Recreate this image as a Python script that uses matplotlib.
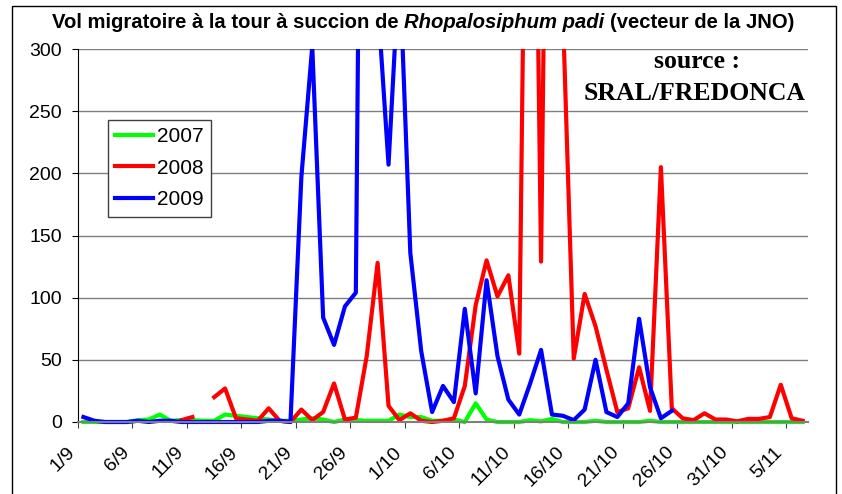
import matplotlib
matplotlib.use('Agg')

import numpy as np
import matplotlib.pyplot as plt
from matplotlib.patches import Rectangle

nan = np.nan

# one value per day, 1/9 -> 6/11
tick_labels = ['1/9', '6/9', '11/9', '16/9', '21/9', '26/9', '1/10', '6/10',
               '11/10', '16/10', '21/10', '26/10', '31/10', '5/11']

vol_2007 = [0, 0, 0, 0, 0, 1.5, 2, 6, 1, 1.5, 1.5, 1, 1, 6, 5, 4, 3, 2, 1, 1,
            2, 3, 2, 0, 2, 1.5, 1, 1, 1, 6, 4, 4, 1, 1, 2, 0, 15, 2, 0, 0,
            0, 1.5, 0.5, 2.5, 0, 0, 0, 1, 0, 0, 0, 0, 1, 0, 0, 0, 0, 0, 0, 0,
            0, 0, 0, 0, 0, 0, 0]

vol_2008 = [nan, nan, nan, nan, nan, nan, nan, nan, nan, 1.5, 4, nan, 20, 27, 3, 2, 1, 11, 1, 0,
            10, 1.5, 8, 31, 2, 3.5, 53, 128, 13, 1.5, 7, 1, 0, 1, 3, 29, 94, 130, 101, 118,
            55, 800, 129, 900, 330, 51, 103, 77, 42, 8, 11, 44, 9, 205, 11, 3, 1.5, 7, 2, 2,
            0.5, 2.5, 2.5, 4, 30, 3, 1]

vol_2009 = [4, 1, 0, 0, 0, 1, 0, 1, 1, 0, 0, 0, 0, 0, 0, 0, 0, 1, 1, 0,
            197, 302, 84, 62, 93, 104, 1100, 340, 207, 370, 136, 57, 8, 29, 16, 91, 23, 114, 53, 18,
            6, 31, 58, 6, 5, 1.5, 10, 50, 8, 4, 15, 83, 28, 3, 9, nan, nan, nan, nan, nan,
            nan, nan, nan, nan, nan, nan, nan]

plt.rcParams['font.family'] = 'Liberation Sans'

W, H = 842, 494
fig = plt.figure(figsize=(W / 100, H / 100), dpi=100)
ax = fig.add_axes([78 / W, 1 - 422 / H, 730 / W, 373 / H])

x = np.arange(len(vol_2007))
n = len(x)

series = [(vol_2007, '#00ff00', '2007'),
          (vol_2008, '#ff0000', '2008'),
          (vol_2009, '#0000ff', '2009')]
for vals, col, lab in series:
    line, = ax.plot(x, vals, color=col, lw=3, label=lab)
    # clip at the top only, so the lines lying on 0 keep full width
    clip = Rectangle((-0.5, -10), n, 310, transform=ax.transData)
    line.set_clip_path(clip)

ax.set_xlim(-0.5, n - 0.5)
ax.set_ylim(0, 300)
ax.set_yticks(range(0, 301, 50))
ax.set_xticks(np.arange(0, 66, 5) - 0.5)
ax.set_xticklabels(tick_labels, rotation=45, ha='right')
ax.tick_params(axis='both', labelsize=14, length=4.5, direction='out')
ax.tick_params(axis='x', pad=11, color='#404040')
ax.tick_params(axis='y', pad=7)

ax.yaxis.grid(True, color='#7f7f7f', lw=1)
ax.set_axisbelow(True)
for s in ['top', 'right']:
    ax.spines[s].set_visible(False)
ax.spines['left'].set_color('black')
ax.spines['bottom'].set_color('#7f7f7f')
ax.spines['bottom'].set_linewidth(1.5)

leg = ax.legend(loc='upper left', bbox_to_anchor=(108 / W, 1 - 120 / H),
                bbox_transform=fig.transFigure, fontsize=15, fancybox=False,
                edgecolor='#404040', framealpha=1, borderpad=0.35,
                labelspacing=0.6, handlelength=1.8, handletextpad=0.2,
                borderaxespad=0)
leg.get_frame().set_linewidth(1)

# title: bold, species name in bold italic
fs = 14.6
parts = [('Vol migratoire à la tour à succion de', 'normal'),
         ('Rhopalosiphum padi', 'italic'),
         ('(vecteur de la JNO)', 'normal')]
renderer = fig.canvas.get_renderer()
xpos = 52
space = 0.278 * fs * 100 / 72
for txt, st in parts:
    t = fig.text(xpos / W, 1 - 28 / H, txt, fontsize=fs, fontweight='bold',
                 style=st, va='baseline')
    bb = t.get_window_extent(renderer)
    xpos = bb.x1 + space

fig.text(697 / W, 1 - 68 / H, 'source :', family='Liberation Serif',
         fontweight='bold', fontsize=18.5, ha='center', va='baseline')
fig.text(695 / W, 1 - 100 / H, 'SRAL/FREDONCA', family='Liberation Serif',
         fontweight='bold', fontsize=18.5, ha='center', va='baseline')

fig.add_artist(Rectangle((12 / W, -0.05), 824 / W, 1 - 6 / H + 0.05,
                         transform=fig.transFigure, fill=False,
                         edgecolor='black', lw=1))

plt.savefig('out.png', dpi=100)
plt.close(fig)
